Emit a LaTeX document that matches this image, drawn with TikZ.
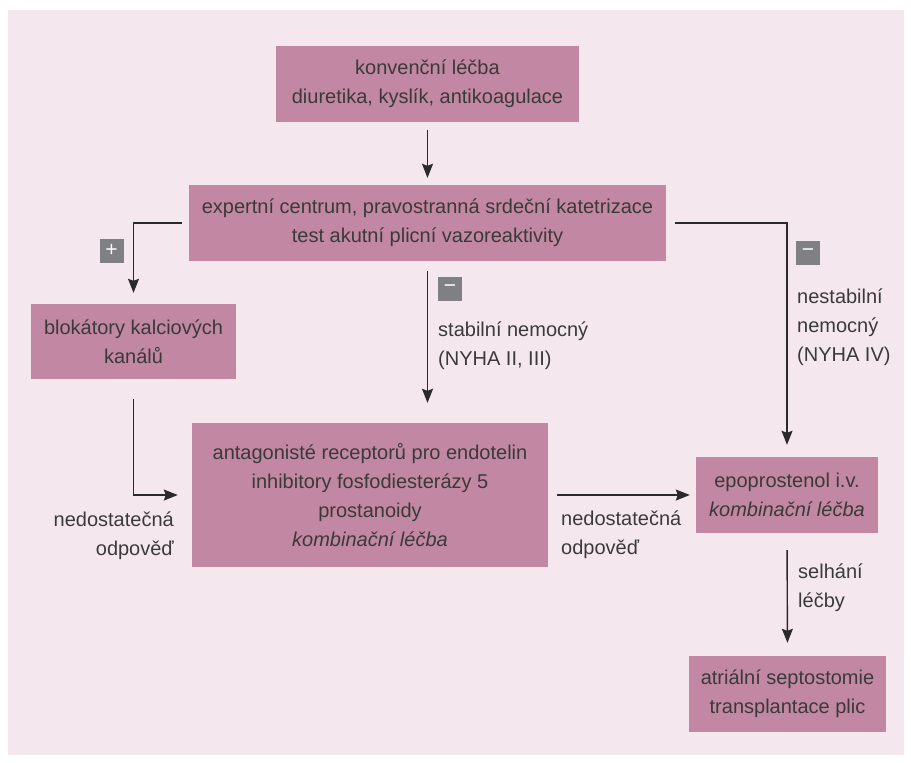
\documentclass[tikz,border=0pt]{standalone}
\usepackage{fontspec}
\setmainfont{Liberation Sans}
\usetikzlibrary{arrows.meta}
\definecolor{panel}{HTML}{F4E8EE}
\definecolor{boxfill}{HTML}{C287A2}
\definecolor{signgray}{HTML}{7F8083}
\definecolor{txt}{HTML}{3A3A3A}
\definecolor{arr}{HTML}{2A2A2A}
\begin{document}
\begin{tikzpicture}[x=1pt,y=-1pt,
  box/.style={fill=boxfill, inner sep=0pt, align=center, text=txt, font=\fontsize{20}{28.8}\selectfont},
  lbl/.style={inner sep=0pt, text=txt, font=\fontsize{20}{28.8}\selectfont},
  sign/.style={fill=signgray, minimum size=24pt, inner sep=0pt, text=white, font=\fontsize{21}{21}\selectfont},
  conn/.style={draw=arr, line width=1.4pt, -{Stealth[length=14pt,width=11pt,inset=2pt]}}
]
\useasboundingbox (0,0) rectangle (911,763);
\fill[white] (0,0) rectangle (911,763);
\fill[panel] (8,10) rectangle (904,755);

\node[box, minimum width=303pt, minimum height=76pt] (b1) at (427.5,84) {konvenční léčba\\diuretika, kyslík, antikoagulace};
\node[box, minimum width=477pt, minimum height=76pt] (b2) at (427.5,223) {expertní centrum, pravostranná srdeční katetrizace\\test akutní plicní vazoreaktivity};
\node[box, minimum width=205pt, minimum height=75pt] (b3) at (133.5,341.5) {blokátory kalciových\\kanálů};
\node[box, minimum width=356pt, minimum height=144pt] (b4) at (370,495) {antagonisté receptorů pro endotelin\\inhibitory fosfodiesterázy 5\\prostanoidy\\\textit{kombinační léčba}};
\node[box, minimum width=182pt, minimum height=76pt] (b5) at (787,495) {epoprostenol i.v.\\\textit{kombinační léčba}};
\node[box, minimum width=197pt, minimum height=76pt] (b6) at (787.5,694) {atriální septostomie\\transplantace plic};

\node[sign] (s1) at (111.5,250.5) {+};
\node[sign] (s2) at (450,289) {−};
\node[sign] (s3) at (808,252.5) {−};

\node[lbl, anchor=west, align=left] (l1) at (438,346) {stabilní nemocný\\(NYHA II, III)};
\node[lbl, anchor=west, align=left] (l2) at (797,327.5) {nestabilní\\nemocný\\(NYHA IV)};
\node[lbl, anchor=east, align=right] (l3) at (174,536) {nedostatečná\\odpověď};
\node[lbl, anchor=west, align=left] (l4) at (561,535) {nedostatečná\\odpověď};
\node[lbl, anchor=west, align=left] (l5) at (798,587.5) {selhání\\léčby};

\draw[conn, shorten <=8pt, shorten >=7pt] (b1.south) -- (b2.north);
\draw[conn, shorten <=7pt, shorten >=11pt] (b2.west) -| (b3.north);
\draw[conn, shorten <=10pt, shorten >=20pt] (b2.south) -- (b2.south |- b4.north);
\draw[conn, shorten <=9pt, shorten >=12pt] (b2.east) -| (b5.north);
\draw[conn, shorten <=20pt, shorten >=14pt] (b3.south) |- (b4.west);
\draw[conn, shorten <=9pt, shorten >=6pt] (b4.east) -- (b5.west);
\draw[conn, shorten <=17pt, shorten >=13pt] (b5.south) -- (b6.north);
\end{tikzpicture}
\end{document}
